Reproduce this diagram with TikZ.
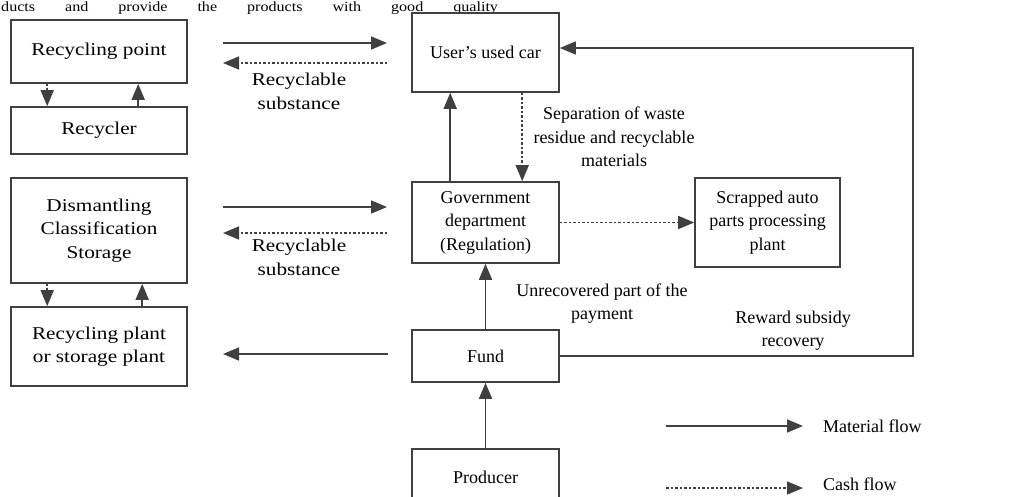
\documentclass[tikz,border=0pt]{standalone}
\usepackage{fontspec}
\setmainfont{Liberation Serif}
\usepackage{graphicx}
\usetikzlibrary{arrows.meta}
\definecolor{lc}{HTML}{404040}
\newcommand{\wtx}[1]{\scalebox{1.18}[1]{#1}}
\begin{document}
\begin{tikzpicture}[x=1pt,y=-1pt,
  flow/.style={draw=lc, line width=1.6pt, -{Triangle[length=16pt,width=13pt]}},
  cash/.style={flow, dash pattern=on 2.5pt off 2pt},
  box/.style={draw=lc, line width=1.6pt, inner sep=0pt, align=center, font=\fontsize{18}{23.5}\selectfont},
  lbl/.style={align=center, font=\fontsize{18}{23.5}\selectfont, inner sep=0pt}
]
\useasboundingbox (0,0) rectangle (1032,496);
\clip (0,0) rectangle (1032,496);

\node[anchor=base west, inner sep=0pt, font=\fontsize{14}{16}\selectfont] (top) at (1,11) {\scalebox{1.15}[1]{\makebox[432pt][s]{ducts and provide the products with good quality}}};

% left column
\node[box, minimum width=176pt, minimum height=63pt] (recpt) at (99,51.5) {\wtx{Recycling point}};
\node[box, minimum width=176pt, minimum height=47pt] (recycler) at (99,130.5) {\wtx{Recycler}};
\node[box, minimum width=176pt, minimum height=105pt] (dism) at (99,230.5) {\wtx{Dismantling}\\\wtx{Classification}\\\wtx{Storage}};
\node[box, minimum width=176pt, minimum height=79pt] (rplant) at (99,346.5) {\wtx{Recycling plant}\\\wtx{or storage plant}};

% middle column
\node[box, minimum width=147pt, minimum height=79pt] (user) at (485.5,52.5) {User's used car};
\node[box, minimum width=147pt, minimum height=81pt] (gov) at (485.5,222.5) {Government\\department\\(Regulation)};
\node[box, minimum width=147pt, minimum height=52pt] (fund) at (485.5,356) {Fund};
\node[box, minimum width=147pt, minimum height=56pt] (prod) at (485.5,477) {Producer};
\node[box, minimum width=145pt, minimum height=89pt] (scrap) at (767.5,222.5) {Scrapped auto\\parts processing\\plant};

% small vertical arrows on the left
\draw[cash] ([xshift=37pt]recpt.south west) -- ([xshift=37pt]recycler.north west);
\draw[flow] ([xshift=128pt]recycler.north west) -- ([xshift=128pt]recpt.south west);
\draw[cash] ([xshift=37pt]dism.south west) -- ([xshift=37pt]rplant.north west);
\draw[flow] ([xshift=132pt]rplant.north west) -- ([xshift=132pt]dism.south west);

% horizontal free arrows
\coordinate (a1l) at (223,43);  \coordinate (a1r) at (387,43);
\coordinate (b1l) at (223,63);  \coordinate (b1r) at (387,63);
\coordinate (a2l) at (223,207); \coordinate (a2r) at (387,207);
\coordinate (b2l) at (223,233); \coordinate (b2r) at (387,233);
\coordinate (f1l) at (223,354); \coordinate (f1r) at (388,354);
\draw[flow] (a1l) -- (a1r);
\draw[cash] (b1r) -- (b1l);
\draw[flow] (a2l) -- (a2r);
\draw[cash] (b2r) -- (b2l);
\draw[flow] (f1r) -- (f1l);
\node[lbl] (rs1) at (299,91.5) {\wtx{Recyclable}\\\wtx{substance}};
\node[lbl] (rs2) at (299,257.5) {\wtx{Recyclable}\\\wtx{substance}};

% middle connectors
\draw[flow] ([xshift=39pt]gov.north west) -- ([xshift=39pt]user.south west);
\draw[cash] ([xshift=111pt]user.south west) -- ([xshift=111pt]gov.north west);
\draw[cash] (gov.east) -- (scrap.west);
\draw[flow] (fund.north) -- (gov.south);
\draw[flow] (prod.north) -- (fund.south);
\coordinate (rc) at (913,48);
\draw[flow] (fund.east) -| (rc) -- (user.east |- rc);

\node[lbl] (sep) at (614,137) {Separation of waste\\residue and recyclable\\materials};
\node[lbl] (unrec) at (602,303.5) {Unrecovered part of the\\payment};
\node[lbl] (rew) at (793,330.5) {Reward subsidy\\recovery};

% legend
\coordinate (m1) at (666,426); \coordinate (m2) at (803,426);
\coordinate (c1) at (666,488); \coordinate (c2) at (803,488);
\draw[flow] (m1) -- (m2);
\draw[cash] (c1) -- (c2);
\node[lbl, anchor=west] (mf) at (823,426) {Material flow};
\node[lbl, anchor=west] (cf) at (823,484) {Cash flow};
\end{tikzpicture}
\end{document}
